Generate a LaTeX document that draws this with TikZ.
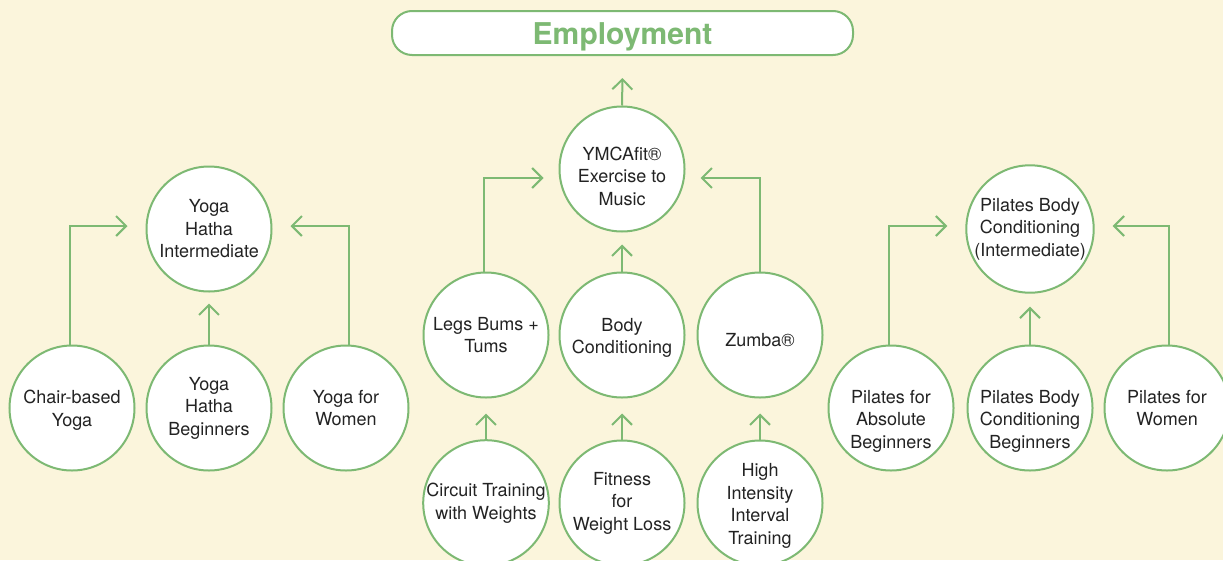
\documentclass[tikz,border=0pt]{standalone}
\usepackage{fontspec}
\setmainfont{TeX Gyre Heros}
\usetikzlibrary{arrows.meta}
\definecolor{bg}{RGB}{251,245,220}
\definecolor{gr}{RGB}{125,185,115}
\definecolor{tx}{RGB}{35,35,35}
\tikzset{
  lbl/.style={align=center, text=tx, font=\fontsize{18}{22.5}\selectfont, inner sep=0pt},
  circ/.style={circle, draw=gr, line width=2pt, fill=white, minimum size=125pt, inner sep=0pt, lbl},
  arr/.style={draw=gr, line width=2pt, -{Straight Barb[length=10pt,width=20pt,line width=2pt]}},
  empbox/.style={draw=gr, line width=2pt, fill=white, rounded corners=20pt, minimum width=461pt,
    minimum height=44pt, inner sep=0pt},
  emptext/.style={text=gr, font=\fontsize{30}{34}\selectfont\bfseries, inner sep=0pt}
}
\begin{document}
\begin{tikzpicture}[x=1pt,y=-1pt]
\useasboundingbox (0,0) rectangle (1223,560);
\fill[bg] (0,0) rectangle (1223,560);
\clip (0,0) rectangle (1223,560);
\node[empbox] (emp) at (622.5,33) {};
\node[emptext] (empt) at ([yshift=-4pt]emp.center) {Employment};
% left group
\node[circ] (yhi) at (209,229) {Yoga\\Hatha\\Intermediate};
\node[circ] (chair) at (72,408) {};
\node[lbl] (chairt) at ([yshift=-2pt]chair.center) {Chair-based\\Yoga};
\node[circ] (yhb) at (209,408) {Yoga\\Hatha\\Beginners};
\node[circ] (yw) at (346,408) {Yoga for\\Women};
% center group
\node[circ] (ymca) at (622,169) {};
\node[lbl] (ymcat) at ([yshift=-7pt]ymca.center) {YMCAfit®\\Exercise to\\Music};
\node[circ] (legs) at (486,335) {Legs Bums +\\Tums};
\node[circ] (body) at (622,335) {};
\node[lbl] (bodyt) at ([yshift=-3pt]body.center) {Body\\Conditioning};
\node[circ] (zumba) at (760,335) {};
\node[lbl] (zumbat) at ([yshift=-5pt]zumba.center) {Zumba®};
\node[circ] (circuit) at (486,503) {Circuit Training\\with Weights};
\node[circ] (fit) at (622,503) {Fitness\\for\\Weight Loss};
\node[circ] (hiit) at (760,503) {};
\node[lbl] (hiitt) at ([yshift=-3pt]hiit.center) {High\\Intensity\\Interval\\Training};
% right group
\node[circ] (phi) at (1030,229) {Pilates Body\\Conditioning\\(Intermediate)};
\node[circ] (pab) at (891,408) {};
\node[lbl] (pabt) at ([yshift=-13pt]pab.center) {Pilates for\\Absolute\\Beginners};
\node[circ] (pbb) at (1030,408) {};
\node[lbl] (pbbt) at ([yshift=-13pt]pbb.center) {Pilates Body\\Conditioning\\Beginners};
\node[circ] (pw) at (1167,408) {Pilates for\\Women};
% arrows
\draw[arr] (ymca.north) -- ([yshift=-22pt]emp.south);
\draw[arr] ([xshift=-2pt]chair.north) |- ([xshift=-18pt,yshift=3pt]yhi.west);
\draw[arr] ([xshift=3pt]yw.north) |- ([xshift=18pt,yshift=3pt]yhi.east);
\draw[arr] (yhb.north) -- ([yshift=-11pt]yhi.south);
\draw[arr] ([xshift=-2pt]legs.north) |- ([xshift=-15pt,yshift=-9pt]ymca.west);
\draw[arr] (zumba.north) |- ([xshift=15pt,yshift=-9pt]ymca.east);
\draw[arr] (body.north) -- ([yshift=-12pt]ymca.south);
\draw[arr] (circuit.north) -- ([yshift=-15pt]legs.south);
\draw[arr] (fit.north) -- ([yshift=-15pt]body.south);
\draw[arr] (hiit.north) -- ([yshift=-15pt]zumba.south);
\draw[arr] ([xshift=-2pt]pab.north) |- ([xshift=-18pt,yshift=3pt]phi.west);
\draw[arr] ([xshift=2pt]pw.north) |- ([xshift=18pt,yshift=3pt]phi.east);
\draw[arr] (pbb.north) -- ([yshift=-13pt]phi.south);
\end{tikzpicture}
\end{document}
